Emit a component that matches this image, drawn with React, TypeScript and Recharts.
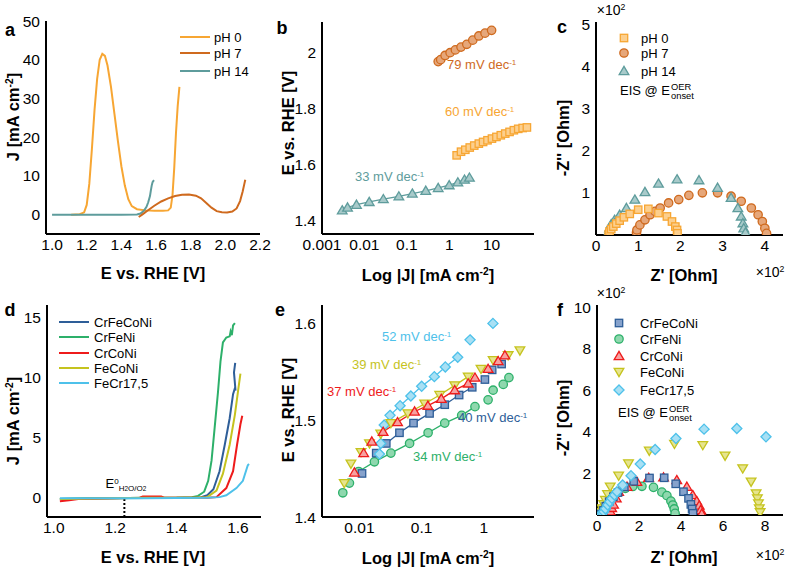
import React from 'react';
import { ComposedChart, XAxis, YAxis, Line, Scatter } from 'recharts';

const FONT = '"Liberation Sans", Arial, Helvetica, sans-serif';
type P = [number, number];
const xy = (a: P[]) => a.map(([x, y]) => ({ x, y }));

// ---------- colours ----------
const PH0 = '#F7A633', PH0F = '#FCCF8E';
const PH7 = '#CF6A1E', PH7F = '#E6A77A';
const PH14 = '#5E9C9C', PH14F = '#A8CACA';
const CFCN = '#2E5E98', CFCNF = '#86A2CC';
const CFN = '#2DB06A', CFNF = '#8FD8AE';
const CCN = '#EE1B1B', CCNF = '#F7A0A0';
const FCN = '#C5C31E', FCNF = '#E6E48E';
const FCR = '#4EC1EA', FCRF = '#A8E0F4';

// ---------- panel a : LSV at different pH ----------
const aPH0: P[] = [[1.11,0],[1.16,0.1],[1.185,0.6],[1.2,2.5],[1.215,8],[1.23,17],[1.245,27],[1.26,35],[1.275,40],[1.29,41.5],[1.305,41],[1.32,38.5],[1.34,33],[1.36,26],[1.38,19],[1.4,12.5],[1.42,7.5],[1.44,4],[1.46,2.2],[1.49,1.4],[1.54,1.1],[1.59,1.0],[1.64,1.0],[1.67,1.1],[1.685,1.8],[1.695,5],[1.705,12],[1.715,21],[1.725,28],[1.735,33]];
const aPH7: P[] = [[1.5,-0.6],[1.52,0],[1.55,1.0],[1.59,2.3],[1.63,3.4],[1.67,4.2],[1.71,4.8],[1.75,5.15],[1.79,5.2],[1.83,4.9],[1.86,4.2],[1.89,3.0],[1.92,1.8],[1.95,0.9],[1.98,0.6],[2.01,0.55],[2.04,0.8],[2.065,1.6],[2.085,3.5],[2.1,6],[2.11,8],[2.115,9]];
const aPH14: P[] = [[1.0,0],[1.2,0],[1.4,0],[1.49,0.05],[1.51,0.3],[1.53,1.0],[1.545,2.0],[1.555,3.2],[1.565,4.8],[1.57,6.2],[1.575,7.5],[1.58,8.4],[1.588,8.9]];

// ---------- panel b : Tafel at different pH ----------
const bPH0: P[] = [[1.5,1.632],[1.9,1.645],[2.4,1.652],[3.05,1.66],[3.9,1.667],[5.0,1.674],[6.3,1.68],[8.0,1.686],[10.2,1.692],[13,1.698],[16.5,1.704],[21,1.71],[26.5,1.716],[33.5,1.722],[42.5,1.727],[54,1.73],[68,1.732]];
const bPH7: P[] = [[0.55,1.968],[0.63,1.975],[0.8,1.99],[1.05,2.0],[1.4,2.01],[1.9,2.02],[2.6,2.03],[3.6,2.045],[5.0,2.06],[7.0,2.07],[10,2.08]];
const bPH14: P[] = [[0.003,1.435],[0.004,1.445],[0.0065,1.455],[0.013,1.465],[0.028,1.475],[0.065,1.485],[0.135,1.495],[0.28,1.505],[0.55,1.515],[1.0,1.525],[1.6,1.535],[2.3,1.545],[3.0,1.552]];

// ---------- panel c : EIS at different pH (x10^2 Ohm) ----------
const cPH0: P[] = [[0.3,0.02],[0.32,0.08],[0.36,0.14],[0.41,0.2],[0.48,0.27],[0.56,0.34],[0.66,0.42],[0.8,0.5],[1.0,0.6],[1.24,0.62],[1.48,0.52],[1.68,0.44],[1.8,0.32],[1.88,0.2],[1.92,0.12],[1.93,0.04]];
const cPH7: P[] = [[0.96,0.06],[0.97,0.12],[1.04,0.24],[1.16,0.36],[1.28,0.48],[1.4,0.56],[1.52,0.64],[1.72,0.76],[1.96,0.84],[2.2,0.94],[2.52,1.0],[2.88,1.0],[3.2,0.92],[3.44,0.8],[3.68,0.64],[3.84,0.48],[3.94,0.32],[4.0,0.16],[4.04,0.04]];
const cPH14: P[] = [[0.28,0.04],[0.32,0.16],[0.36,0.26],[0.44,0.36],[0.56,0.48],[0.72,0.64],[0.92,0.84],[1.16,1.02],[1.48,1.22],[1.92,1.32],[2.44,1.3],[2.88,1.12],[3.2,0.88],[3.36,0.64],[3.44,0.44],[3.48,0.28],[3.5,0.16],[3.54,0.06]];

// ---------- panel d : LSV of alloys ----------
const dCFCN: P[] = [[1.02,-0.1],[1.3,0],[1.45,0],[1.48,0.05],[1.5,0.2],[1.52,0.7],[1.54,2.2],[1.557,4.4],[1.573,6.6],[1.584,8.6],[1.59,9.1],[1.592,8.9],[1.587,10.4],[1.591,11.2]];
const dCFN: P[] = [[1.02,-0.1],[1.1,-0.05],[1.2,-0.05],[1.3,-0.02],[1.4,0],[1.45,0.05],[1.47,0.15],[1.49,0.5],[1.503,1.4],[1.514,3.1],[1.524,5.8],[1.535,8.8],[1.543,11.3],[1.551,12.9],[1.562,13.3],[1.573,13.4],[1.576,13.8],[1.58,13.5],[1.584,14.3],[1.59,14.5]];
const dCCN: P[] = [[1.02,-0.3],[1.05,-0.2],[1.08,-0.1],[1.28,0],[1.29,0.1],[1.35,0.1],[1.36,0],[1.5,0],[1.53,0.05],[1.562,0.8],[1.584,2.2],[1.597,4.4],[1.608,6.1],[1.614,6.8]];
const dFCN: P[] = [[1.02,-0.1],[1.3,0],[1.46,0],[1.5,0.05],[1.53,0.6],[1.551,2],[1.573,4.4],[1.59,6.9],[1.6,8.8],[1.608,10.3]];
const dFCR: P[] = [[1.02,-0.05],[1.3,-0.05],[1.5,0],[1.54,0.05],[1.562,0.2],[1.595,0.8],[1.616,1.4],[1.632,2.7],[1.636,2.8]];
const dE0: P[] = [[1.23,-1.6],[1.23,0]];

// ---------- panel e : Tafel of alloys ----------
const eFCR: P[] = [[0.021,1.465],[0.022,1.476],[0.025,1.495],[0.031,1.505],[0.045,1.515],[0.067,1.525],[0.1,1.535],[0.16,1.545],[0.24,1.555],[0.38,1.565],[0.6,1.583],[1.4,1.6]];
const eFCN: P[] = [[0.0057,1.435],[0.0073,1.455],[0.0106,1.467],[0.0145,1.476],[0.022,1.486],[0.032,1.497],[0.06,1.507],[0.112,1.517],[0.195,1.526],[0.34,1.536],[0.56,1.545],[0.9,1.553],[1.41,1.562],[2.46,1.567],[3.8,1.572]];
const eCCN: P[] = [[0.0083,1.446],[0.0117,1.466],[0.0158,1.478],[0.024,1.488],[0.041,1.498],[0.077,1.509],[0.126,1.515],[0.207,1.522],[0.34,1.531],[0.56,1.538],[0.72,1.544],[1.17,1.553],[1.7,1.561],[2.18,1.567]];
const eCFCN: P[] = [[0.011,1.445],[0.0186,1.466],[0.027,1.476],[0.044,1.487],[0.074,1.497],[0.134,1.507],[0.235,1.516],[0.4,1.526],[0.65,1.534],[1.04,1.542],[1.36,1.552],[1.93,1.558]];
const eCFN: P[] = [[0.0054,1.425],[0.0069,1.435],[0.0097,1.447],[0.0174,1.457],[0.032,1.466],[0.064,1.476],[0.127,1.487],[0.235,1.497],[0.44,1.505],[0.72,1.514],[1.17,1.521],[1.41,1.531],[2.05,1.537],[2.53,1.544]];

// ---------- panel f : EIS of alloys (x10^2 Ohm) ----------
const fCFCN: P[] = [[0.2,0.05],[0.3,0.22],[0.42,0.42],[0.58,0.64],[0.78,0.88],[1.0,1.08],[1.3,1.35],[1.75,1.62],[2.5,1.78],[3.2,1.79],[3.75,1.5],[4.12,1.12],[4.36,0.8],[4.47,0.51],[4.53,0.29],[4.57,0.08]];
const fCFN: P[] = [[0.25,0.05],[0.35,0.25],[0.5,0.5],[0.7,0.78],[0.95,1.05],[1.35,1.28],[1.7,1.37],[2.14,1.38],[2.69,1.33],[3.09,1.1],[3.33,0.93],[3.52,0.67],[3.61,0.48],[3.68,0.29],[3.72,0.08]];
const fCCN: P[] = [[0.6,0.06],[0.63,0.18],[0.7,0.34],[0.79,0.5],[0.92,0.8],[1.03,1.12],[1.43,1.36],[1.9,1.6],[2.46,1.79],[3.17,1.81],[3.8,1.68],[4.28,1.36],[4.56,0.96],[4.75,0.67],[4.87,0.45],[4.94,0.24],[4.99,0.06]];
const fFCN: P[] = [[0.12,0.05],[0.18,0.15],[0.24,0.32],[0.32,0.52],[0.4,0.72],[0.5,1.0],[0.63,1.36],[1.03,1.89],[1.5,2.48],[2.49,3.09],[3.69,3.42],[5.04,3.36],[6.1,2.85],[6.94,2.24],[7.34,1.6],[7.58,1.04],[7.64,0.8],[7.69,0.56],[7.73,0.32],[7.77,0.13]];
const fFCR: P[] = [[0.2,0.04],[0.25,0.1],[0.32,0.16],[0.4,0.3],[0.51,0.48],[0.61,0.64],[0.71,0.8],[0.83,0.96],[0.95,1.12],[1.22,1.44],[1.62,1.89],[2.06,2.45],[2.77,3.15],[3.76,3.68],[5.1,4.13],[6.66,4.16],[8.05,3.76]];

// ---------- ticks ----------
const range = (a: number, b: number, s: number) => { const r: number[] = []; for (let i = 0; a + i * s <= b + 1e-9; i++) r.push(+(a + i * s).toFixed(6)); return r; };
const logMinor = (lo: number, hi: number) => { const r: number[] = []; for (let e = -4; e <= 3; e++) for (let m = 2; m <= 9; m++) { const v = m * Math.pow(10, e); if (v > lo && v < hi) r.push(v); } return r; };

interface AxisCfg { domain: [number, number]; ticks: number[]; labels?: number[]; minor: number[]; log?: boolean; fmt?: (v: number) => string }
interface Frame { x0: number; y0: number; x1: number; y1: number }

const L = 56, B = 30, T = 14, R = 18;
const tickStyle = { fontSize: 15.5, fill: '#000', fontFamily: FONT };
const frameLine = { stroke: '#000', strokeWidth: 2 };
const tl = { stroke: '#000', strokeWidth: 1.5 };

function Panel({ f, xa, ya, children }: { f: Frame; xa: AxisCfg; ya: AxisCfg; children: React.ReactNode }) {
  const w = f.x1 - f.x0 + L + R;
  const h = f.y1 - f.y0 + T + B;
  const xc: any = { type: 'number', scale: xa.log ? 'log' : 'linear', domain: xa.domain, allowDataOverflow: true, interval: 0 };
  const yc: any = { type: 'number', scale: ya.log ? 'log' : 'linear', domain: ya.domain, allowDataOverflow: true, interval: 0 };
  return (
    <div style={{ position: 'absolute', left: f.x0 - L, top: f.y0 - T }}>
      <ComposedChart width={w} height={h} margin={{ top: T, right: R, bottom: 0, left: 0 }}>
        <XAxis xAxisId="m" dataKey="x" {...xc} ticks={xa.labels ?? xa.ticks} tickFormatter={xa.fmt} height={B} tickLine={false} tickSize={0} tickMargin={5} axisLine={frameLine} tick={tickStyle} />
        <XAxis xAxisId="bM" {...xc} ticks={xa.ticks} orientation="bottom" mirror height={0} tick={false} tickSize={5} tickLine={tl} axisLine={false} />
        <XAxis xAxisId="bm" {...xc} ticks={xa.minor} orientation="bottom" mirror height={0} tick={false} tickSize={3} tickLine={tl} axisLine={false} />
        <XAxis xAxisId="tM" {...xc} ticks={xa.ticks} orientation="top" mirror height={0} tick={false} tickSize={5} tickLine={tl} axisLine={frameLine} />
        <XAxis xAxisId="tm" {...xc} ticks={xa.minor} orientation="top" mirror height={0} tick={false} tickSize={3} tickLine={tl} axisLine={false} />
        <YAxis yAxisId="m" dataKey="y" {...yc} ticks={ya.labels ?? ya.ticks} tickFormatter={ya.fmt} width={L} tickLine={false} tickSize={0} tickMargin={6} axisLine={frameLine} tick={tickStyle} />
        <YAxis yAxisId="lM" {...yc} ticks={ya.ticks} orientation="left" mirror width={0} tick={false} tickSize={5} tickLine={tl} axisLine={false} />
        <YAxis yAxisId="lm" {...yc} ticks={ya.minor} orientation="left" mirror width={0} tick={false} tickSize={3} tickLine={tl} axisLine={false} />
        <YAxis yAxisId="rM" {...yc} ticks={ya.ticks} orientation="right" mirror width={0} tick={false} tickSize={5} tickLine={tl} axisLine={frameLine} />
        <YAxis yAxisId="rm" {...yc} ticks={ya.minor} orientation="right" mirror width={0} tick={false} tickSize={3} tickLine={tl} axisLine={false} />
        {children}
      </ComposedChart>
    </div>
  );
}

type Kind = 'circle' | 'square' | 'tri' | 'tridown' | 'diamond';
function Mark({ cx, cy, kind, fill, stroke, s = 4.2 }: { cx: number; cy: number; kind: Kind; fill: string; stroke: string; s?: number }) {
  const sw = 1.3;
  if (kind === 'circle') return <circle cx={cx} cy={cy} r={s} fill={fill} stroke={stroke} strokeWidth={sw} />;
  if (kind === 'square') return <rect x={cx - s + 0.5} y={cy - s + 0.5} width={2 * s - 1} height={2 * s - 1} fill={fill} stroke={stroke} strokeWidth={sw} />;
  if (kind === 'tri') return <path d={`M${cx},${cy - s * 1.1}L${cx + s * 1.15},${cy + s * 0.85}L${cx - s * 1.15},${cy + s * 0.85}Z`} fill={fill} stroke={stroke} strokeWidth={sw} />;
  if (kind === 'tridown') return <path d={`M${cx},${cy + s * 1.1}L${cx + s * 1.15},${cy - s * 0.85}L${cx - s * 1.15},${cy - s * 0.85}Z`} fill={fill} stroke={stroke} strokeWidth={sw} />;
  return <path d={`M${cx},${cy - s * 1.2}L${cx + s * 1.2},${cy}L${cx},${cy + s * 1.2}L${cx - s * 1.2},${cy}Z`} fill={fill} stroke={stroke} strokeWidth={sw} />;
}

const sc = (data: P[], kind: Kind, fill: string, stroke: string, key: string) => (
  <Scatter key={key} xAxisId="m" yAxisId="m" data={xy(data)} dataKey="y" isAnimationActive={false}
    shape={(p: any) => <Mark cx={p.cx} cy={p.cy} kind={kind} fill={fill} stroke={stroke} />} />
);
const ln = (data: P[], color: string, key: string, width = 2, dash?: string) => (
  <Line key={key} xAxisId="m" yAxisId="m" data={xy(data)} dataKey="y" type="linear" stroke={color} strokeWidth={width} strokeDasharray={dash} dot={false} activeDot={false} isAnimationActive={false} />
);

// ---------- text helpers ----------
function Tx({ x, y, children, size = 13, bold = false, color = '#000', anchor = 'left', rot = false }: any) {
  const tx = anchor === 'center' ? '-50%' : anchor === 'left' ? '0' : '-100%';
  return (
    <div style={{ position: 'absolute', left: x, top: y, transform: `translate(${tx},-50%)${rot ? ' rotate(-90deg)' : ''}`, fontFamily: FONT, fontSize: size, fontWeight: bold ? 700 : 400, color, whiteSpace: 'nowrap', lineHeight: 1 }}>{children}</div>
  );
}
const Sup = ({ children }: any) => <span style={{ fontSize: '0.62em', position: 'relative', top: '-0.55em' }}>{children}</span>;
const Sub = ({ children }: any) => <span style={{ fontSize: '0.62em', position: 'relative', top: '0.35em' }}>{children}</span>;
const Onset = () => (
  <span style={{ display: 'inline-flex', flexDirection: 'column', verticalAlign: 'middle', fontSize: '0.72em', lineHeight: 1, marginLeft: 1 }}>
    <span>OER</span><span>onset</span>
  </span>
);
const LegLine = ({ x, y, color }: any) => <div style={{ position: 'absolute', left: x, top: y - 1.25, width: 30, height: 2.5, background: color }} />;
const LegMark = ({ x, y, kind, fill, stroke }: any) => (
  <svg style={{ position: 'absolute', left: x - 7, top: y - 7 }} width={14} height={14}><Mark cx={7} cy={7} kind={kind} fill={fill} stroke={stroke} /></svg>
);

const f1 = (v: number) => v.toFixed(1);

export default function App() {
  const fa: Frame = { x0: 46, y0: 21, x1: 260, y1: 234 };
  const fb: Frame = { x0: 322, y0: 22, x1: 534, y1: 234 };
  const fc: Frame = { x0: 596, y0: 22, x1: 783, y1: 235 };
  const fd: Frame = { x0: 47, y0: 305, x1: 261, y1: 517 };
  const fe: Frame = { x0: 322, y0: 305, x1: 534, y1: 517 };
  const ff: Frame = { x0: 597, y0: 305, x1: 783, y1: 515 };

  const ax: AxisCfg = { domain: [0.965, 2.2], ticks: range(1, 2.2, 0.2), minor: range(1.1, 2.1, 0.2), fmt: f1 };
  const ay: AxisCfg = { domain: [-5, 50], ticks: range(0, 50, 10), minor: range(-5, 45, 10) };
  const bx: AxisCfg = { domain: [0.001, 100], ticks: [0.001, 0.01, 0.1, 1, 10, 100], labels: [0.001, 0.01, 0.1, 1, 10], minor: logMinor(0.001, 100), log: true, fmt: (v) => String(v) };
  const by: AxisCfg = { domain: [1.35, 2.11], ticks: [1.4, 1.6, 1.8, 2.0], minor: [1.5, 1.7, 1.9, 2.1], fmt: (v) => (Math.abs(v - 2) < 1e-6 ? '2' : v.toFixed(1)) };
  const cx: AxisCfg = { domain: [0, 4.43], ticks: range(0, 4, 1), minor: range(0.5, 4, 1), fmt: (v) => String(v) };
  const cy: AxisCfg = { domain: [0, 5.05], ticks: range(0, 5, 1), labels: range(1, 5, 1), minor: range(0.5, 4.5, 1) };
  const dx: AxisCfg = { domain: [0.978, 1.675], ticks: range(1, 1.6, 0.2), minor: range(1.1, 1.5, 0.2), fmt: f1 };
  const dy: AxisCfg = { domain: [-1.6, 16], ticks: range(0, 15, 5), minor: range(2.5, 12.5, 5) };
  const ex: AxisCfg = { domain: [0.0025, 6.4], ticks: [0.01, 0.1, 1], minor: logMinor(0.0025, 6.4), log: true, fmt: (v) => String(v) };
  const ey: AxisCfg = { domain: [1.4, 1.619], ticks: [1.4, 1.5, 1.6], minor: [1.45, 1.55], fmt: f1 };
  const fxa: AxisCfg = { domain: [0, 8.86], ticks: range(0, 8, 2), minor: range(1, 7, 2) };
  const fya: AxisCfg = { domain: [0, 10.1], ticks: range(0, 10, 2), labels: range(2, 10, 2), minor: range(1, 9, 2) };

  return (
    <div style={{ position: 'absolute', left: 0, top: 0, width: 788, height: 571, background: '#fff', overflow: 'hidden' }}>
      <Panel f={fa} xa={ax} ya={ay}>
        {ln(aPH0, PH0, 'a0')}
        {ln(aPH14, PH14, 'a14')}
        {ln(aPH7, PH7, 'a7')}
      </Panel>
      <Panel f={fb} xa={bx} ya={by}>
        {ln(bPH0, PH0, 'bl0', 1.3)}
        {ln(bPH7, PH7, 'bl7', 1.3)}
        {ln(bPH14, PH14, 'bl14', 1.3)}
        {sc(bPH0, 'square', PH0F, PH0, 'b0')}
        {sc(bPH7, 'circle', PH7F, PH7, 'b7')}
        {sc(bPH14, 'tri', PH14F, PH14, 'b14')}
      </Panel>
      <Panel f={fc} xa={cx} ya={cy}>
        {sc(cPH7, 'circle', PH7F, PH7, 'c7')}
        {sc(cPH14, 'tri', PH14F, PH14, 'c14')}
        {sc(cPH0, 'square', PH0F, PH0, 'c0')}
      </Panel>
      <Panel f={fd} xa={dx} ya={dy}>
        {ln(dE0, '#000', 'dE0', 2, '2 2')}
        {ln(dCFCN, CFCN, 'd1')}
        {ln(dCFN, CFN, 'd2')}
        {ln(dCCN, CCN, 'd3')}
        {ln(dFCN, FCN, 'd4')}
        {ln(dFCR, FCR, 'd5')}
      </Panel>
      <Panel f={fe} xa={ex} ya={ey}>
        {ln(eFCR.slice(2, 10), FCR, 'el5', 1.3)}
        {ln(eFCN.slice(4, 11), FCN, 'el4', 1.3)}
        {ln(eCCN.slice(3, 11), CCN, 'el3', 1.3)}
        {ln(eCFCN.slice(2, 9), CFCN, 'el1', 1.3)}
        {ln(eCFN.slice(2, 10), CFN, 'el2', 1.3)}
        {sc(eCFN, 'circle', CFNF, CFN, 'e2')}
        {sc(eCFCN, 'square', CFCNF, CFCN, 'e1')}
        {sc(eFCR, 'diamond', FCRF, FCR, 'e5')}
        {sc(eFCN, 'tridown', FCNF, FCN, 'e4')}
        {sc(eCCN, 'tri', CCNF, CCN, 'e3')}
      </Panel>
      <Panel f={ff} xa={fxa} ya={fya}>
        {sc(fFCN, 'tridown', FCNF, FCN, 'f4')}
        {sc(fCFN, 'circle', CFNF, CFN, 'f2')}
        {sc(fCCN, 'tri', CCNF, CCN, 'f3')}
        {sc(fCFCN, 'square', CFCNF, CFCN, 'f1')}
        {sc(fFCR, 'diamond', FCRF, FCR, 'f5')}
      </Panel>

      {/* panel letters */}
      <Tx x={10} y={30} size={18} bold anchor="center">a</Tx>
      <Tx x={282} y={28} size={18} bold anchor="center">b</Tx>
      <Tx x={562} y={27} size={18} bold anchor="center">c</Tx>
      <Tx x={10} y={310} size={18} bold anchor="center">d</Tx>
      <Tx x={280} y={310} size={18} bold anchor="center">e</Tx>
      <Tx x={560} y={310} size={18} bold anchor="center">f</Tx>

      {/* axis titles */}
      <Tx x={153} y={273} size={16.5} bold anchor="center">E vs. RHE [V]</Tx>
      <Tx x={13} y={117} size={16.5} bold anchor="center" rot>J [mA cm<Sup>-2</Sup>]</Tx>
      <Tx x={428} y={275} size={16.5} bold anchor="center">Log |J| [mA cm<Sup>-2</Sup>]</Tx>
      <Tx x={288} y={123} size={16.5} bold anchor="center" rot>E vs. RHE [V]</Tx>
      <Tx x={684} y={275} size={16.5} bold anchor="center">Z' [Ohm]</Tx>
      <Tx x={770} y={272} size={14} anchor="center">×10<Sup>2</Sup></Tx>
      <Tx x={611} y={10} size={14} anchor="center">×10<Sup>2</Sup></Tx>
      <Tx x={563} y={138} size={16.5} bold anchor="center" rot>-Z'' [Ohm]</Tx>

      <Tx x={153} y={557} size={16.5} bold anchor="center">E vs. RHE [V]</Tx>
      <Tx x={13} y={421} size={16.5} bold anchor="center" rot>J [mA cm<Sup>-2</Sup>]</Tx>
      <Tx x={428} y={558} size={16.5} bold anchor="center">Log |J| [mA cm<Sup>-2</Sup>]</Tx>
      <Tx x={288} y={410} size={16.5} bold anchor="center" rot>E vs. RHE [V]</Tx>
      <Tx x={684} y={557} size={16.5} bold anchor="center">Z' [Ohm]</Tx>
      <Tx x={770} y={555} size={14} anchor="center">×10<Sup>2</Sup></Tx>
      <Tx x={611} y={293} size={14} anchor="center">×10<Sup>2</Sup></Tx>
      <Tx x={563} y={418} size={16.5} bold anchor="center" rot>-Z'' [Ohm]</Tx>

      {/* legend a */}
      <LegLine x={180} y={37} color={PH0} />
      <LegLine x={180} y={53} color={PH7} />
      <LegLine x={180} y={71} color={PH14} />
      <Tx x={214} y={37}>pH 0</Tx>
      <Tx x={214} y={53}>pH 7</Tx>
      <Tx x={214} y={71}>pH 14</Tx>

      {/* annotations b */}
      <Tx x={447} y={65} color={PH7}>79 mV dec<Sup>-1</Sup></Tx>
      <Tx x={445} y={112} color={PH0}>60 mV dec<Sup>-1</Sup></Tx>
      <Tx x={355} y={177} color={PH14}>33 mV dec<Sup>-1</Sup></Tx>

      {/* legend c */}
      <LegMark x={624} y={38} kind="square" fill={PH0F} stroke={PH0} />
      <LegMark x={624} y={53} kind="circle" fill={PH7F} stroke={PH7} />
      <LegMark x={624} y={71} kind="tri" fill={PH14F} stroke={PH14} />
      <Tx x={641} y={38}>pH 0</Tx>
      <Tx x={641} y={53}>pH 7</Tx>
      <Tx x={641} y={71}>pH 14</Tx>
      <Tx x={620} y={92}>EIS @ E<Onset /></Tx>

      {/* legend d */}
      <LegLine x={59} y={322} color={CFCN} />
      <LegLine x={59} y={337} color={CFN} />
      <LegLine x={59} y={353} color={CCN} />
      <LegLine x={59} y={368} color={FCN} />
      <LegLine x={59} y={383} color={FCR} />
      <Tx x={94} y={322}>CrFeCoNi</Tx>
      <Tx x={94} y={337}>CrFeNi</Tx>
      <Tx x={94} y={353}>CrCoNi</Tx>
      <Tx x={94} y={368}>FeCoNi</Tx>
      <Tx x={94} y={383}>FeCr17,5</Tx>
      <Tx x={126} y={484} anchor="center">E<Sup>0</Sup><Sub>H<span style={{ fontSize: '0.8em' }}>2</span>O/O<span style={{ fontSize: '0.8em' }}>2</span></Sub></Tx>

      {/* annotations e */}
      <Tx x={382} y={337} color={FCR}>52 mV dec<Sup>-1</Sup></Tx>
      <Tx x={352} y={365} color={FCN}>39 mV dec<Sup>-1</Sup></Tx>
      <Tx x={327} y={392} color={CCN}>37 mV dec<Sup>-1</Sup></Tx>
      <Tx x={458} y={418} color={CFCN}>40 mV dec<Sup>-1</Sup></Tx>
      <Tx x={413} y={457} color={CFN}>34 mV dec<Sup>-1</Sup></Tx>

      {/* legend f */}
      <LegMark x={619} y={323} kind="square" fill={CFCNF} stroke={CFCN} />
      <LegMark x={619} y={339} kind="circle" fill={CFNF} stroke={CFN} />
      <LegMark x={619} y={356} kind="tri" fill={CCNF} stroke={CCN} />
      <LegMark x={619} y={372} kind="tridown" fill={FCNF} stroke={FCN} />
      <LegMark x={619} y={390} kind="diamond" fill={FCRF} stroke={FCR} />
      <Tx x={640} y={323}>CrFeCoNi</Tx>
      <Tx x={640} y={339}>CrFeNi</Tx>
      <Tx x={640} y={356}>CrCoNi</Tx>
      <Tx x={640} y={372}>FeCoNi</Tx>
      <Tx x={640} y={390}>FeCr17,5</Tx>
      <Tx x={618} y={414}>EIS @ E<Onset /></Tx>
    </div>
  );
}
